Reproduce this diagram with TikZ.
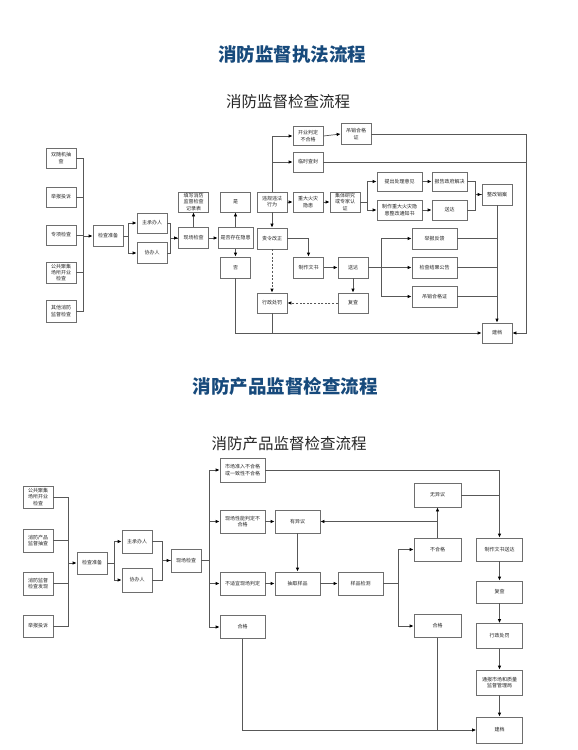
\documentclass[tikz,border=0pt]{standalone}
\usepackage{fontspec}
\setmainfont{Noto Sans CJK SC}
\usetikzlibrary{arrows.meta,positioning,calc}
\definecolor{navy}{HTML}{174A7C}
\definecolor{ink}{HTML}{262626}
\definecolor{boxline}{HTML}{6E6E6E}
\definecolor{wire}{HTML}{585858}

\begin{document}
\begin{tikzpicture}[
  x=1pt,y=-1pt,
  title/.style={font=\bfseries\fontsize{18.5}{20}\selectfont,text=navy},
  subtitle/.style={font=\fontsize{15.5}{18}\selectfont,text=ink},
  box/.style={draw=boxline,line width=.7pt,minimum width=30pt,minimum height=20pt,inner sep=1pt,align=center,font=\fontsize{5}{6.2}\selectfont,text=ink},
  wbox/.style={box,minimum width=45pt},
  arr/.style={-{Latex[length=4pt,width=3.4pt,black]},draw=wire,line width=.7pt},
  link/.style={draw=wire,line width=.7pt},
  dasharr/.style={arr,dash pattern=on 2pt off 1.6pt}
]
\fill[white] (0,0) rectangle (578,750);
\useasboundingbox (0,0) rectangle (578,750);

\node[title] (mainhead) at (292,54) {消防监督执法流程};
\node[subtitle] (headA) at (288,102) {消防监督检查流程};

% enforcement flow: sources
\node[box] (rand) at (61,158) {双随机抽\\查};
\node[box] (tip) at (61,197) {举报投诉};
\node[box] (special) at (61,235) {专项检查};
\node[box,minimum height=21pt] (venue) at (61,272.5) {公共聚集\\场所开业\\检查};
\node[box,minimum height=22pt] (other) at (61,311) {其他消防\\监督检查};
\coordinate (busA) at (83,236);

\node[box,minimum height=21pt] (prep) at (108,236) {检查准备};
\node[box] (lead) at (152,223) {主承办人};
\node[box,minimum height=21pt] (assist) at (152,253) {协办人};
\node[box,minimum height=21pt] (site) at (193.5,238) {现场检查};
\node[box] (record) at (193.5,202) {填写消防\\监督检查\\记录表};
\node[box,minimum width=35pt,minimum height=21pt] (hazard) at (235.5,238) {是否存在隐患};
\node[box] (yes) at (235.5,202) {是};
\node[box,minimum height=21pt] (no) at (235.5,267.5) {否};
\node[box] (illegal) at (272,202) {违规违法\\行为};
\node[box,minimum height=21pt] (correct) at (272,238.5) {责令改正};
\node[box] (penalty) at (272,303) {行政处罚};
\node[box,minimum height=21pt] (doc) at (308.5,267.5) {制作文书};
\node[box,minimum height=21pt] (serve) at (353,267.5) {送达};
\node[box] (recheck) at (353,303) {复查};

% enforcement flow: upper branches
\node[box,minimum height=19pt] (openfail) at (308,136) {开业判定\\不合格};
\node[box,minimum height=21pt] (revoke) at (356,134) {吊销合格\\证};
\node[box] (seal) at (308,162) {临时查封};
\node[box] (major) at (308,202) {重大火灾\\隐患};
\node[box] (expert) at (345,202) {集体研究\\或专家认\\证};
\node[wbox,minimum height=19pt] (propose) at (399.5,181.5) {提出处理意见};
\node[box,minimum width=35pt,minimum height=19pt] (report) at (449.5,181.5) {报告政府解决};
\node[wbox] (notice) at (399.5,210) {制作重大火灾隐\\患整改通知书};
\node[box,minimum width=35pt] (serveB) at (449.5,210) {送达};
\node[box,minimum height=21pt] (close) at (497,194.5) {整改销案};
\node[wbox,minimum height=21pt] (feedback) at (434.5,238.5) {举报反馈};
\node[wbox,minimum height=21pt] (announce) at (434.5,267.5) {检查结果公告};
\node[wbox,minimum height=21pt] (revokeB) at (434.5,296.5) {吊销合格证};
\node[box] (archive) at (497,333) {建档};
\coordinate (rim) at (526,0);

\draw[link] (rand.east) -- (rand.east -| busA) -- (other.east -| busA) -- (other.east);
\foreach \src in {tip,special,venue}{\draw[link] (\src.east) -- (\src.east -| busA);}
\draw[arr] (busA) -- (prep.west);
\draw[arr] (prep.east) -- ++(5,0) |- (lead.west);
\draw[arr] (prep.east) -- ++(5,0) |- (assist.west);
\draw[link] (lead.east) -- ++(3,0) |- (site.west);
\draw[arr] (assist.east) -- ++(3,0) |- (site.west);
\draw[arr] (site.north) -- (record.south);
\draw[arr] (site.east) -- (hazard.west);
\draw[arr] (hazard.north) -- (yes.south);
\draw[arr] (hazard.south) -- (no.north);
\draw[arr] (illegal.north) |- (openfail.west);
\draw[arr] (illegal.north) |- (seal.west);
\draw[arr] (openfail.east) -- (revoke.west);
\draw[arr] (illegal.east) -- (major.west);
\draw[arr] (major.east) -- (expert.west);
\draw[arr] (expert.east) -- ++(7,0) |- (propose.west);
\draw[arr] (expert.east) -- ++(7,0) |- (notice.west);
\draw[arr] (propose.east) -- (report.west);
\draw[arr] (notice.east) -- (serveB.west);
\draw[link] (report.east) -- ++(8,0) |- (close.west);
\draw[arr] (serveB.east) -- ++(8,0) |- (close.west);
\draw[arr] (illegal.south) -- (correct.north);
\draw[arr] (correct.east) -| (doc.north);
\draw[arr] (doc.east) -- (serve.west);
\draw[arr] (serve.south) -- (recheck.north);
\draw[dasharr] (recheck.west) -- (penalty.east);
\draw[dasharr] (correct.south) -- (penalty.north);
\foreach \dst in {feedback,announce,revokeB}{
  \draw[arr] (serve.east) -- ++(13,0) |- (\dst.west);
  \draw[link] (\dst.east) -- (\dst.east -| close.south);
}
\draw[arr] (close.south) -- (archive.north);
\draw[arr] (revoke.east) -- (revoke.east -| rim) |- (archive.east);
\draw[link] (seal.east) -- (seal.east -| rim);
\draw[arr] (no.south) |- (archive.west);
\draw[link] (penalty.south) -- (penalty.south |- archive.west);

\node[title] (prodhead) at (285,386) {消防产品监督检查流程};
\node[subtitle] (headB) at (289,444) {消防产品监督检查流程};

% product flow: sources
\node[box,minimum height=22pt] (venueB) at (38,497) {公共聚集\\场所开业\\检查};
\node[box,minimum height=23pt] (spot) at (38,540.5) {消防产品\\监督抽查};
\node[box,minimum height=23pt] (found) at (38,583.5) {消防监督\\检查发现};
\node[box,minimum height=22pt] (tipB) at (38,626) {举报投诉};
\coordinate (busB) at (68,563);

\node[box,minimum height=22pt] (prepB) at (92,563) {检查准备};
\node[box,minimum height=23pt] (leadB) at (137,541.5) {主承办人};
\node[box,minimum height=24pt] (assistB) at (137,580) {协办人};
\node[box,minimum height=23pt] (siteB) at (186,560.5) {现场检查};
\node[wbox,minimum height=24pt] (market) at (242.5,470) {市场准入不合格\\或一致性不合格};
\node[wbox,minimum height=23pt] (perf) at (242.5,521.5) {现场性能判定不\\合格};
\node[wbox,minimum height=23pt] (unfit) at (242.5,583.5) {不适宜现场判定};
\node[wbox,minimum height=23pt] (passA) at (242.5,627) {合格};
\node[wbox,minimum height=23pt] (dispute) at (297.5,521.5) {有异议};
\node[wbox,minimum height=23pt] (sample) at (297.5,583.5) {抽取样品};
\node[wbox,minimum height=23pt] (test) at (360.5,583.5) {样品检测};
\node[wbox,minimum width=47pt,minimum height=24pt] (agree) at (437.5,495) {无异议};
\node[wbox,minimum width=47pt,minimum height=23pt] (fail) at (437.5,549.5) {不合格};
\node[wbox,minimum width=47pt,minimum height=23pt] (passB) at (437.5,626) {合格};
\node[wbox,minimum width=46pt,minimum height=23pt] (docB) at (499.5,549.5) {制作文书送达};
\node[wbox,minimum width=46pt,minimum height=22pt] (recheckB) at (499.5,592) {复查};
\node[wbox,minimum width=46pt,minimum height=25pt] (penaltyB) at (499.5,636) {行政处罚};
\node[wbox,minimum width=46pt,minimum height=25pt] (notify) at (499.5,682.5) {通报市场和质量\\监督管理局};
\node[wbox,minimum width=46pt,minimum height=26pt] (archiveB) at (499.5,730) {建档};

\draw[link] (venueB.east) -- (venueB.east -| busB) -- (tipB.east -| busB) -- (tipB.east);
\foreach \src in {spot,found}{\draw[link] (\src.east) -- (\src.east -| busB);}
\draw[arr] (busB) -- (prepB.west);
\draw[arr] (prepB.east) -- ++(7,0) |- (leadB.west);
\draw[arr] (prepB.east) -- ++(7,0) |- (assistB.west);
\draw[link] (leadB.east) -- ++(10,0) |- (siteB.west);
\draw[arr] (assistB.east) -- ++(10,0) |- (siteB.west);
\foreach \dst in {market,perf,unfit,passA}{\draw[arr] (siteB.east) -- ++(8,0) |- (\dst.west);}
\draw[arr] (perf.east) -- (dispute.west);
\draw[arr] (unfit.east) -- (sample.west);
\draw[arr] (dispute.south) -- (sample.north);
\draw[arr] (sample.east) -- (test.west);
\draw[arr] (test.east) -- ++(15,0) |- (fail.west);
\draw[arr] (test.east) -- ++(15,0) |- (passB.west);
\draw[arr] (fail.north) -- (agree.south);
\draw[arr] (fail.north |- dispute.east) -- (dispute.east);
\draw[arr] (market.east) -| (docB.north);
\draw[link] (agree.east) -- (agree.east -| docB.north);
\draw[arr] (docB.south) -- (recheckB.north);
\draw[arr] (recheckB.south) -- (penaltyB.north);
\draw[arr] (penaltyB.south) -- (notify.north);
\draw[arr] (notify.south) -- (archiveB.north);
\draw[arr] (passA.south) |- (archiveB.west);
\draw[link] (passB.south) -- (passB.south |- archiveB.west);
\end{tikzpicture}
\end{document}
